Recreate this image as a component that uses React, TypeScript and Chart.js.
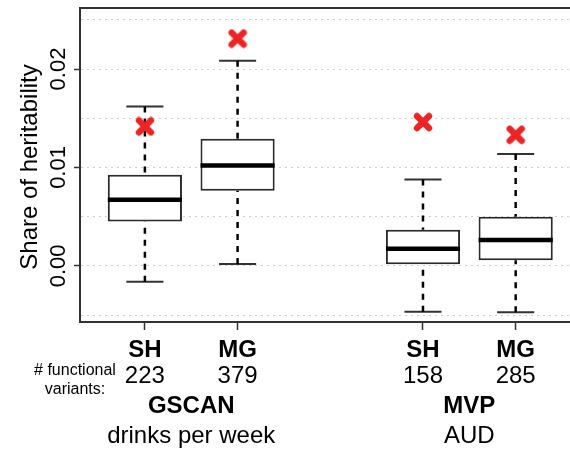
import { useEffect, useRef } from 'react';
import { Chart, registerables } from 'chart.js';

Chart.register(...registerables);

// ---- data ----
const positions = [1, 2, 4, 5];
const subgroupLabels = ['SH', 'MG', 'SH', 'MG'];
const variantCounts = ['223', '379', '158', '285'];
const studyPositions = [1.5, 4.5];
const studyLabels = ['GSCAN', 'MVP'];
const phenotypeLabels = ['drinks per week', 'AUD'];

const whiskerLow = [-0.0016, 0.0002, -0.00465, -0.0047];
const quartile1 = [0.0045, 0.00763, 0.00017, 0.00058];
const medians = [0.00671, 0.0102, 0.00173, 0.00264];
const quartile3 = [0.00925, 0.01292, 0.00366, 0.00498];
const whiskerHigh = [0.0162, 0.02085, 0.00878, 0.01136];
const observed = [0.01417, 0.02309, 0.01461, 0.01332];

const yGridValues = [-0.005, 0, 0.005, 0.01, 0.015, 0.02, 0.025];
const yLabelValues = [0, 0.01, 0.02];

const yTitle = 'Share of heritability';
const variantsCaption = ['# functional', 'variants:'];

const BOX_HALF = 0.4;
const CAP_HALF = 0.2;
const FONT = '"Liberation Sans", Arial, Helvetica, sans-serif';

function isLabeled(v: number) {
  return yLabelValues.some((l) => Math.abs(l - v) < 1e-9);
}

function makeCross(): HTMLCanvasElement {
  const c = document.createElement('canvas');
  c.width = 20;
  c.height = 20;
  const g = c.getContext('2d')!;
  g.strokeStyle = '#ee2424';
  g.lineWidth = 6.4;
  g.lineCap = 'round';
  g.beginPath();
  g.moveTo(4, 4);
  g.lineTo(16, 16);
  g.moveTo(16, 4);
  g.lineTo(4, 16);
  g.stroke();
  return c;
}

const textPlugin = {
  id: 'boxplotText',
  afterDraw(chart: any) {
    const { ctx, chartArea, scales } = chart;
    const xs = scales.x;
    const ys = scales.y;
    ctx.save();
    // top frame line
    ctx.strokeStyle = '#333';
    ctx.lineWidth = 2;
    ctx.beginPath();
    ctx.moveTo(chartArea.left, chartArea.top);
    ctx.lineTo(chartArea.right, chartArea.top);
    ctx.stroke();

    ctx.fillStyle = '#000';
    ctx.textAlign = 'center';
    ctx.textBaseline = 'alphabetic';

    // y title
    ctx.save();
    ctx.translate(chartArea.left - 43, (chartArea.top + chartArea.bottom) / 2 + 2);
    ctx.rotate(-Math.PI / 2);
    ctx.font = `24px ${FONT}`;
    ctx.fillText(yTitle, 0, 0);
    ctx.restore();

    // y tick labels (rotated)
    ctx.font = `22px ${FONT}`;
    yLabelValues.forEach((v) => {
      const y = ys.getPixelForValue(v);
      ctx.save();
      ctx.translate(chartArea.left - 15, y);
      ctx.rotate(-Math.PI / 2);
      ctx.fillText(v.toFixed(2), 0, 0);
      ctx.restore();
    });

    const b = chartArea.bottom;
    // subgroup labels and counts
    positions.forEach((p, i) => {
      const x = xs.getPixelForValue(p);
      ctx.font = `bold 24px ${FONT}`;
      ctx.fillText(subgroupLabels[i], x, b + 35);
      ctx.font = `24px ${FONT}`;
      ctx.fillText(variantCounts[i], x, b + 61);
    });
    // study / phenotype labels
    studyPositions.forEach((p, i) => {
      const x = xs.getPixelForValue(p);
      ctx.font = `bold 24px ${FONT}`;
      ctx.fillText(studyLabels[i], x, b + 91);
      ctx.font = `24px ${FONT}`;
      ctx.fillText(phenotypeLabels[i], x, b + 121);
    });
    // caption
    ctx.font = `16px ${FONT}`;
    ctx.fillText(variantsCaption[0], chartArea.left - 5, b + 53);
    ctx.fillText(variantsCaption[1], chartArea.left - 5, b + 72);
    ctx.restore();
  },
};

export default function App() {
  const ref = useRef<HTMLCanvasElement | null>(null);

  useEffect(() => {
    if (!ref.current) return;
    const gap = (p: number) => ({ x: p, y: null as any });

    const medianData: any[] = [];
    const whiskerData: any[] = [];
    const capData: any[] = [];
    positions.forEach((p, i) => {
      medianData.push({ x: p - BOX_HALF, y: medians[i] }, { x: p + BOX_HALF, y: medians[i] }, gap(p));
      whiskerData.push(
        { x: p, y: whiskerHigh[i] },
        { x: p, y: quartile3[i] },
        gap(p),
        { x: p, y: whiskerLow[i] },
        { x: p, y: quartile1[i] },
        gap(p)
      );
      capData.push(
        { x: p - CAP_HALF, y: whiskerHigh[i] },
        { x: p + CAP_HALF, y: whiskerHigh[i] },
        gap(p),
        { x: p - CAP_HALF, y: whiskerLow[i] },
        { x: p + CAP_HALF, y: whiskerLow[i] },
        gap(p)
      );
    });

    const chart = new Chart(ref.current, {
      type: 'bar',
      data: {
        datasets: [
          {
            type: 'scatter',
            data: positions.map((p, i) => ({ x: p, y: observed[i] })),
            pointStyle: makeCross() as any,
            pointRadius: 9,
            order: 0,
          } as any,
          {
            type: 'line',
            data: medianData,
            borderColor: '#000',
            borderWidth: 4.5,
            pointRadius: 0,
            spanGaps: false,
            order: 1,
          } as any,
          {
            type: 'bar',
            data: positions.map((p, i) => ({ x: p, y: [quartile1[i], quartile3[i]] })),
            backgroundColor: '#ffffff',
            borderColor: '#2a2a2a',
            borderWidth: 2,
            borderSkipped: false,
            barPercentage: 0.8,
            categoryPercentage: 1,
            order: 2,
          } as any,
          {
            type: 'line',
            data: whiskerData,
            borderColor: '#000',
            borderWidth: 2.5,
            borderDash: [6, 6],
            pointRadius: 0,
            spanGaps: false,
            order: 3,
          } as any,
          {
            type: 'line',
            data: capData,
            borderColor: '#333',
            borderWidth: 2,
            pointRadius: 0,
            spanGaps: false,
            order: 3,
          } as any,
        ],
      },
      options: {
        animation: false,
        responsive: false,
        layout: { autoPadding: false, padding: { top: 8, left: 0, right: 0, bottom: 0 } },
        plugins: { legend: { display: false }, tooltip: { enabled: false } },
        scales: {
          x: {
            type: 'linear',
            min: 0.3,
            max: 5.586,
            offset: false,
            afterBuildTicks: (scale: any) => {
              scale.ticks = positions.map((v) => ({ value: v }));
            },
            afterFit: (scale: any) => {
              scale.height = 127;
            },
            ticks: { display: false },
            grid: {
              offset: false,
              drawOnChartArea: false,
              drawTicks: true,
              tickLength: 8,
              tickColor: '#333',
              tickWidth: 1.5,
            },
            border: { display: true, color: '#333', width: 2 },
          },
          y: {
            type: 'linear',
            min: -0.0057,
            max: 0.0262,
            afterBuildTicks: (scale: any) => {
              scale.ticks = yGridValues.map((v) => ({ value: v }));
            },
            afterFit: (scale: any) => {
              scale.width = 80;
            },
            ticks: { display: false },
            grid: {
              color: '#cfcfcf',
              lineWidth: 1,
              drawTicks: true,
              tickLength: 6,
              tickWidth: 1.5,
              tickColor: (c: any) => (c.tick && isLabeled(c.tick.value) ? '#333' : 'rgba(0,0,0,0)'),
            },
            border: { display: true, color: '#333', width: 2, dash: [2, 4] },
          },
        },
      } as any,
      plugins: [textPlugin],
    });
    return () => chart.destroy();
  }, []);

  return (
    <div style={{ position: 'fixed', left: 0, top: 0, width: 570, height: 449, background: '#fff' }}>
      <canvas ref={ref} width={570} height={449} />
    </div>
  );
}
